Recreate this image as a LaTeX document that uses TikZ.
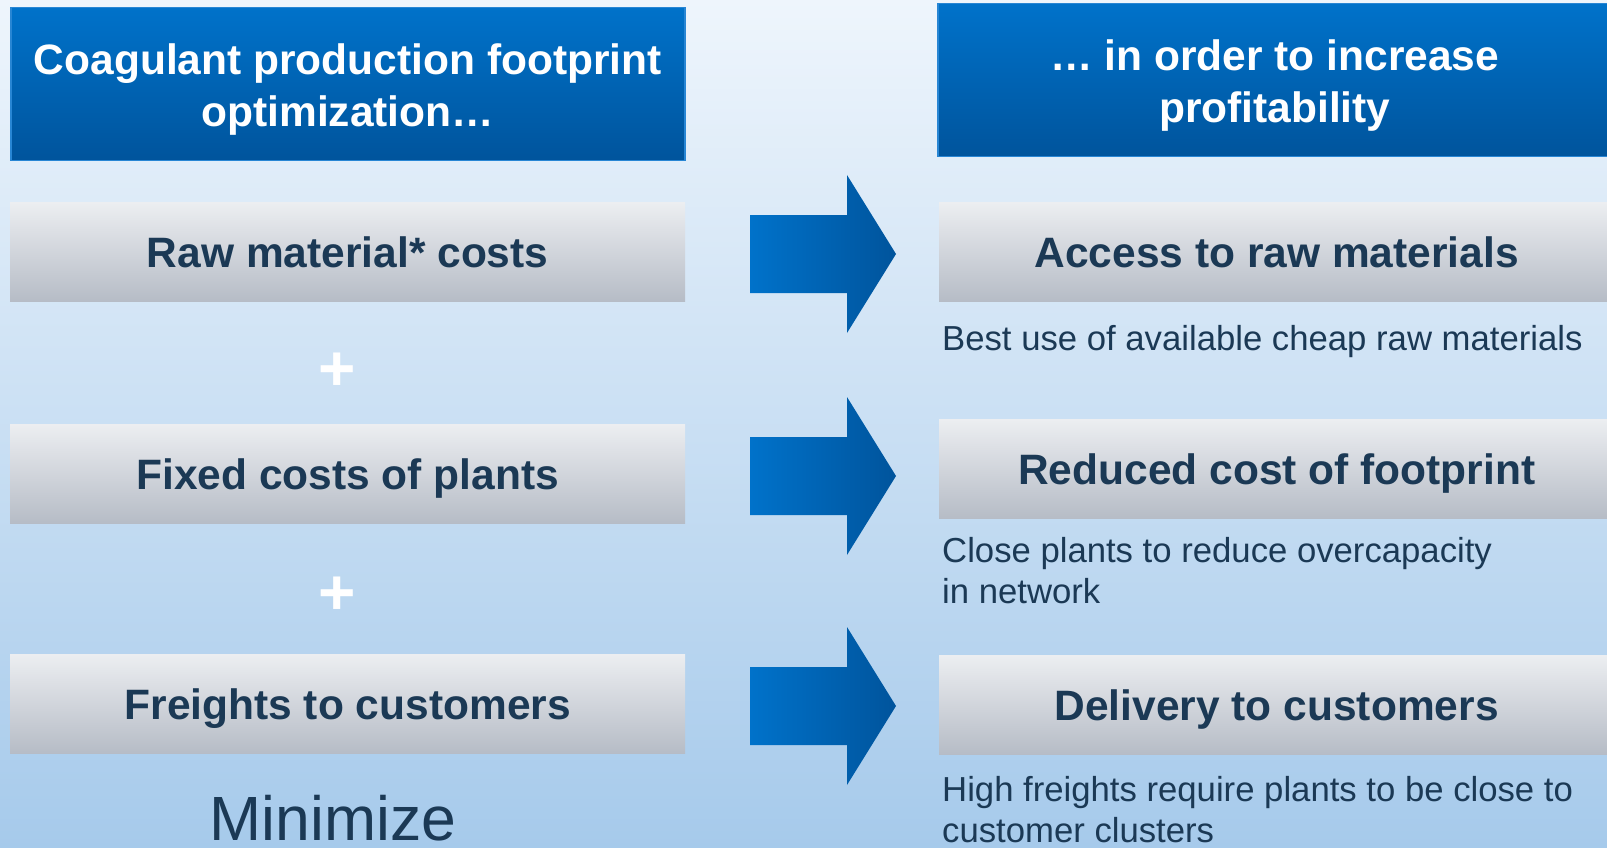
\documentclass[tikz,border=0pt]{standalone}
\usepackage{fontspec}
\setmainfont{Liberation Sans}
\usepackage{tikz}
\usetikzlibrary{shapes,arrows,positioning}
\usepackage{xcolor}

\definecolor{bgtop}{RGB}{238,245,252}
\definecolor{bgmid}{RGB}{208,228,247}
\definecolor{bgbot}{RGB}{166,202,235}
\definecolor{bluetop}{RGB}{0,114,202}
\definecolor{bluebot}{RGB}{0,84,156}
\definecolor{blueline}{RGB}{40,134,212}
\definecolor{greytop}{RGB}{236,238,241}
\definecolor{greybot}{RGB}{182,188,198}
\definecolor{navy}{RGB}{27,57,85}

% taller first line pushes the heading text down a little
\newcommand{\headstrut}{\rule{0pt}{41pt}}

\begin{document}
\begin{tikzpicture}[
    x=1pt, y=-1pt,
    headbox/.style={rectangle, draw=blueline, line width=1.5pt, top color=bluetop, bottom color=bluebot, text=white,
      font=\bfseries\fontsize{42.5}{52}\selectfont, align=center,
      minimum width=674pt, minimum height=153pt, inner sep=0, anchor=north west},
    costbox/.style={rectangle, top color=greytop, bottom color=greybot, text=navy,
      font=\bfseries\fontsize{42.5}{50}\selectfont, text height=32pt, text depth=0pt,
      minimum width=675pt, minimum height=99pt, inner sep=0, anchor=north west},
    note/.style={text=navy, font=\fontsize{34.7}{41}\selectfont, align=left, inner sep=0, anchor=base west},
    plus/.style={text=white, font=\bfseries\fontsize{64}{64}\selectfont, inner sep=0},
    push/.style={left color=bluetop, right color=bluebot}
  ]
    \useasboundingbox (0,0) rectangle (1607,848);
    \shade[top color=bgtop, middle color=bgmid, bottom color=bgbot] (0,0) rectangle (1607,848);

    % left column: what gets optimized
    \node [headbox] (goal) at (10,7) {\headstrut Coagulant production footprint\\optimization…};
    \node [costbox] (rawcost) at (10,202) {Raw material* costs};
    \node [costbox] (fixcost) at (10,424) {Fixed costs of plants};
    \node [costbox] (freight) at (10,654) {Freights to customers};
    \node [plus] (plusA) at (337,372) {+};
    \node [plus] (plusB) at (337,596) {+};
    \node [text=navy, font=\fontsize{62.5}{62.5}\selectfont, inner sep=0, anchor=base] (minimize) at (333,840) {Minimize};

    % right column: what it buys
    \node [headbox] (profit) at (937,3) {\headstrut … in order to increase\\profitability};
    \node [costbox] (access) at (939,202) {Access to raw materials};
    \node [costbox] (reduced) at (939,419) {Reduced cost of footprint};
    \node [costbox] (delivery) at (939,655) {Delivery to customers};
    % notes: base anchor sits on the last line
    \node [note] (accessnote) at (942,350) {Best use of available cheap raw materials};
    \node [note] (reducednote) at (942,603) {Close plants to reduce overcapacity\\in network};
    \node [note] (deliverynote) at (942,842) {High freights require plants to be close to\\customer clusters};

    % block arrows between the columns
    \foreach \y in {254,476,706}
      \shade [push] (750,\y-39) -- (847,\y-39) -- (847,\y-79) -- (896,\y)
        -- (847,\y+79) -- (847,\y+39) -- (750,\y+39) -- cycle;
\end{tikzpicture}
\end{document}
